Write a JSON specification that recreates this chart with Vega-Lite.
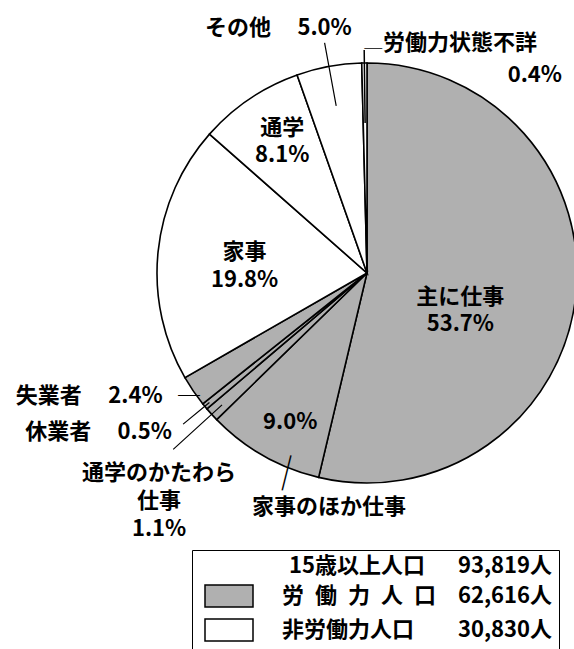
{
  "$schema": "https://vega.github.io/schema/vega-lite/v6.json",
  "width": 734,
  "height": 546,
  "autosize": "none",
  "padding": {"left": 0, "top": 0, "right": -160, "bottom": 103},
  "background": "white",
  "config": {
    "view": {"stroke": null},
    "text": {"font": "Noto Sans CJK JP", "fontSize": 22, "fontWeight": "bold", "color": "black"}
  },
  "data": {
    "values": [
      {"idx": 1, "cat": "主に仕事", "share": 0.537, "grp": "労働力人口", "label": "主に仕事\n53.7%"},
      {"idx": 2, "cat": "家事のほか仕事", "share": 0.090, "grp": "労働力人口", "label": "家事のほか仕事"},
      {"idx": 3, "cat": "通学のかたわら仕事", "share": 0.011, "grp": "労働力人口", "label": "通学のかたわら\n仕事\n1.1%"},
      {"idx": 4, "cat": "休業者", "share": 0.005, "grp": "労働力人口", "label": "休業者\u2003\u20090.5%"},
      {"idx": 5, "cat": "失業者", "share": 0.024, "grp": "労働力人口", "label": "失業者\u2003\u20092.4%\u2002\u2009─"},
      {"idx": 6, "cat": "家事", "share": 0.198, "grp": "非労働力人口", "label": "家事\n19.8%"},
      {"idx": 7, "cat": "通学", "share": 0.081, "grp": "非労働力人口", "label": "通学\n8.1%"},
      {"idx": 8, "cat": "その他", "share": 0.050, "grp": "非労働力人口", "label": "その他\u2003\u20095.0%"},
      {"idx": 9, "cat": "労働力状態不詳", "share": 0.004, "grp": "非労働力人口", "label": "労働力状態不詳"}
    ]
  },
  "encoding": {
    "theta": {"field": "share", "type": "quantitative", "stack": true},
    "order": {"field": "idx", "type": "quantitative"}
  },
  "layer": [
    {
      "mark": {"type": "arc", "outerRadius": 210, "stroke": "black", "strokeWidth": 1.6},
      "encoding": {
        "color": {
          "field": "grp", "type": "nominal",
          "scale": {"domain": ["労働力人口", "非労働力人口"], "range": ["#b0b0b0", "#ffffff"]},
          "legend": {
            "orient": "none", "legendX": 192, "legendY": 550, "direction": "vertical",
            "title": "15歳以上人口\u2003\u200293,819人\u3000\u3000",
            "titleFont": "Noto Sans CJK JP", "titleFontSize": 22, "titleFontWeight": "bold", "titleColor": "black",
            "titleAnchor": "end", "titlePadding": 7, "titleLimit": 600,
            "labelFont": "Noto Sans CJK JP", "labelFontSize": 22, "labelFontWeight": "bold", "labelColor": "black", "labelLimit": 600,
            "labelExpr": "datum.label === '労働力人口' ? '労\u2002働\u2002力\u2002人\u2002口\u200362,616人\u3000\u3000' : '非労働力人口\u2003\u200330,830人\u3000\u3000'",
            "symbolType": "M-2.4,-1.1H2.4V1.1H-2.4Z", "symbolSize": 400,
            "symbolStrokeColor": "black", "symbolStrokeWidth": 1.5,
            "symbolOffset": 20, "labelOffset": 42, "rowPadding": 6, "padding": 6,
            "strokeColor": "black", "fillColor": "white"
          }
        }
      }
    },
    {
      "mark": {"type": "arc", "outerRadius": 234, "innerRadius": 170, "padAngle": 3, "stroke": "black", "strokeWidth": 1.2, "fillOpacity": 0},
      "encoding": {"strokeOpacity": {"condition": {"test": "datum.cat === 'その他'", "value": 1}, "value": 0}}
    },
    {
      "mark": {"type": "arc", "outerRadius": 223, "innerRadius": 150, "padAngle": 3, "stroke": "black", "strokeWidth": 1.5, "fillOpacity": 0},
      "encoding": {"strokeOpacity": {"condition": {"test": "datum.cat === '労働力状態不詳'", "value": 1}, "value": 0}}
    },
    {
      "mark": {"type": "arc", "outerRadius": 238, "innerRadius": 204, "padAngle": 3, "stroke": "black", "strokeWidth": 1.2, "fillOpacity": 0},
      "encoding": {"strokeOpacity": {"condition": {"test": "datum.cat === '休業者'", "value": 1}, "value": 0}}
    },
    {
      "mark": {"type": "arc", "outerRadius": 262, "innerRadius": 196, "padAngle": 3, "stroke": "black", "strokeWidth": 1.2, "fillOpacity": 0},
      "encoding": {"strokeOpacity": {"condition": {"test": "datum.cat === '通学のかたわら仕事'", "value": 1}, "value": 0}}
    },
    {
      "mark": {"type": "text", "radius": 95, "dx": -1, "dy": 13, "lineBreak": "\n", "lineHeight": 27},
      "encoding": {"text": {"field": "label", "type": "nominal"}, "opacity": {"condition": {"test": "datum.cat === '主に仕事'", "value": 1}, "value": 0}}
    },
    {
      "mark": {"type": "text", "radius": 170, "dx": 7, "dy": 1},
      "encoding": {"text": {"field": "share", "type": "quantitative", "format": ".1%"}, "opacity": {"condition": {"test": "datum.cat === '家事のほか仕事'", "value": 1}, "value": 0}}
    },
    {
      "mark": {"type": "text", "radius": 123, "dx": 0, "dy": -9, "lineBreak": "\n", "lineHeight": 28},
      "encoding": {"text": {"field": "label", "type": "nominal"}, "opacity": {"condition": {"test": "datum.cat === '家事'", "value": 1}, "value": 0}}
    },
    {
      "mark": {"type": "text", "radius": 157, "dx": 3, "dy": -15, "lineBreak": "\n", "lineHeight": 27},
      "encoding": {"text": {"field": "label", "type": "nominal"}, "opacity": {"condition": {"test": "datum.cat === '通学'", "value": 1}, "value": 0}}
    },
    {
      "mark": {"type": "text", "radius": 250, "align": "right", "dx": 30, "dy": 1},
      "encoding": {"text": {"field": "label", "type": "nominal"}, "opacity": {"condition": {"test": "datum.cat === 'その他'", "value": 1}, "value": 0}}
    },
    {
      "mark": {"type": "text", "radius": 230, "align": "left", "dx": 19, "dy": 0},
      "encoding": {"text": {"field": "label", "type": "nominal"}, "opacity": {"condition": {"test": "datum.cat === '労働力状態不詳'", "value": 1}, "value": 0}}
    },
    {
      "mark": {"type": "text", "radius": 223, "align": "left", "dx": 0, "dy": 0, "fontSize": 18, "fontWeight": "normal", "text": "─"},
      "encoding": {"opacity": {"condition": {"test": "datum.cat === '労働力状態不詳'", "value": 1}, "value": 0}}
    },
    {
      "mark": {"type": "text", "radius": 198, "align": "right", "dx": 197.5, "dy": 0},
      "encoding": {"text": {"field": "share", "type": "quantitative", "format": ".1%"}, "opacity": {"condition": {"test": "datum.cat === '労働力状態不詳'", "value": 1}, "value": 0}}
    },
    {
      "mark": {"type": "text", "radius": 200, "align": "right", "dx": -1.6, "dy": 11},
      "encoding": {"text": {"field": "label", "type": "nominal"}, "opacity": {"condition": {"test": "datum.cat === '失業者'", "value": 1}, "value": 0}}
    },
    {
      "mark": {"type": "text", "radius": 250, "align": "right", "dx": -2, "dy": 0},
      "encoding": {"text": {"field": "label", "type": "nominal"}, "opacity": {"condition": {"test": "datum.cat === '休業者'", "value": 1}, "value": 0}}
    },
    {
      "mark": {"type": "text", "radius": 300, "dx": 14, "dy": -2, "lineBreak": "\n", "lineHeight": 28},
      "encoding": {"text": {"field": "label", "type": "nominal"}, "opacity": {"condition": {"test": "datum.cat === '通学のかたわら仕事'", "value": 1}, "value": 0}}
    },
    {
      "mark": {"type": "text", "radius": 270, "align": "left", "dx": 18, "dy": -1},
      "encoding": {"text": {"field": "label", "type": "nominal"}, "opacity": {"condition": {"test": "datum.cat === '家事のほか仕事'", "value": 1}, "value": 0}}
    },
    {
      "mark": {"type": "text", "radius": 220, "dx": 29, "dy": 4, "angle": 14, "fontSize": 36, "fontWeight": "normal", "text": "│"},
      "encoding": {"opacity": {"condition": {"test": "datum.cat === '家事のほか仕事'", "value": 1}, "value": 0}}
    }
  ]
}
